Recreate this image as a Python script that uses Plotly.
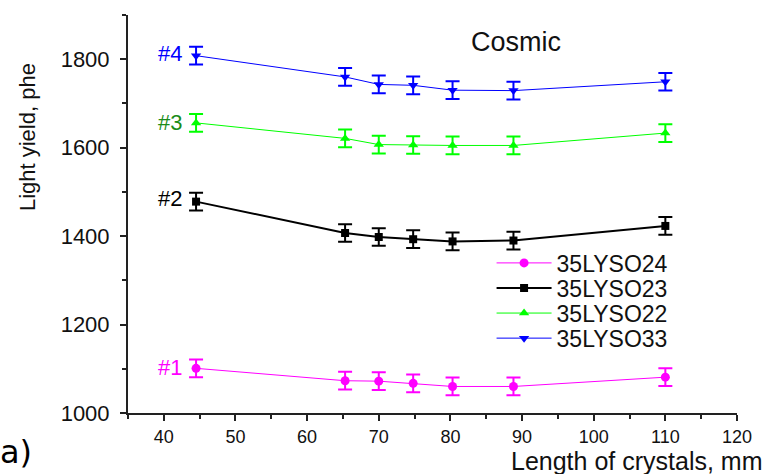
import plotly.graph_objects as go

length_mm = [44.5, 65.3, 70.0, 74.8, 80.3, 88.8, 110.0]
ly_24 = [1101, 1073, 1072, 1067, 1060, 1060, 1081]
ly_23 = [1478, 1407, 1398, 1393, 1388, 1390, 1423]
ly_22 = [1656, 1621, 1607, 1606, 1605, 1605, 1633]
ly_33 = [1808, 1760, 1743, 1741, 1730, 1729, 1749]
err = 20

series = [
    ("35LYSO24", ly_24, "#ff00ff", "circle", 1, 9),
    ("35LYSO23", ly_23, "#000000", "square", 2, 8),
    ("35LYSO22", ly_22, "#00ff00", "triangle-up", 1, 9),
    ("35LYSO33", ly_33, "#0000ff", "triangle-down", 1, 9),
]
legend_ids = ["legend", "legend2", "legend3", "legend4"]
legend_rows_y = [0.377, 0.314, 0.251, 0.188]

fig = go.Figure()
for (name, ys, col, sym, lw, ms), lid in zip(series, legend_ids):
    fig.add_trace(go.Scatter(
        x=length_mm, y=ys, name=name, mode="lines+markers", legend=lid,
        line=dict(color=col, width=lw),
        marker=dict(color=col, symbol=sym, size=ms),
        error_y=dict(type="constant", value=err, color=col, thickness=2, width=7),
    ))

labels = [("#1", 1102, "#ff00ff"), ("#2", 1484, "#000000"),
          ("#3", 1658, "#1a8c1a"), ("#4", 1814, "#0000ff")]
for t, yv, c in labels:
    fig.add_annotation(x=42.8, y=yv, text=t, showarrow=False, xanchor="right",
                       font=dict(size=22, color=c))

fig.add_annotation(x=89.1, y=1838, text="Cosmic", showarrow=False,
                   font=dict(size=27, color="#111"))
fig.add_annotation(xref="paper", yref="paper", x=-0.184, y=-0.098, text="a)",
                   showarrow=False, xanchor="center", yanchor="middle",
                   font=dict(size=32, color="#000", family="DejaVu Sans"))
fig.add_annotation(xref="paper", yref="paper", x=1.045, y=-0.12, text="Length of crystals, mm",
                   showarrow=False, xanchor="right", yanchor="middle",
                   font=dict(size=25, color="#111"))
fig.add_annotation(xref="paper", yref="paper", x=-0.166, y=0.693, text="Light yield, phe",
                   showarrow=False, xanchor="center", yanchor="middle", textangle=-90,
                   font=dict(size=22, color="#111"))

legend_common = dict(xanchor="left", yanchor="middle", bgcolor="rgba(0,0,0,0)",
                     font=dict(size=23, color="#111"), itemwidth=55)
layout_legends = {}
for lid, ly in zip(legend_ids, legend_rows_y):
    layout_legends[lid] = dict(x=0.597, y=ly, **legend_common)

fig.update_layout(
    width=764, height=474,
    margin=dict(l=128, r=23, t=15, b=61),
    paper_bgcolor="white", plot_bgcolor="white",
    font=dict(family="Liberation Sans, Arial, sans-serif", size=16, color="#111"),
    showlegend=True,
    xaxis=dict(range=[35, 120], tickvals=[40, 50, 60, 70, 80, 90, 100, 110, 120],
               showgrid=False, zeroline=False, showline=True, linecolor="#222", linewidth=2,
               ticks="outside", ticklen=6, tickwidth=2, tickcolor="#222",
               ticklabelstandoff=0,
               minor=dict(dtick=5, tick0=35, ticks="outside", ticklen=4, tickwidth=2, tickcolor="#222"),
               tickfont=dict(size=18)),
    yaxis=dict(range=[1000, 1900], tickvals=[1000, 1200, 1400, 1600, 1800],
               showgrid=False, zeroline=False, showline=True, linecolor="#222", linewidth=2,
               ticks="outside", ticklen=6, tickwidth=2, tickcolor="#222",
               ticklabelstandoff=6,
               minor=dict(dtick=100, tick0=1000, ticks="outside", ticklen=4, tickwidth=2, tickcolor="#222"),
               tickfont=dict(size=22)),
    **layout_legends,
)

fig.write_html("out.html")
